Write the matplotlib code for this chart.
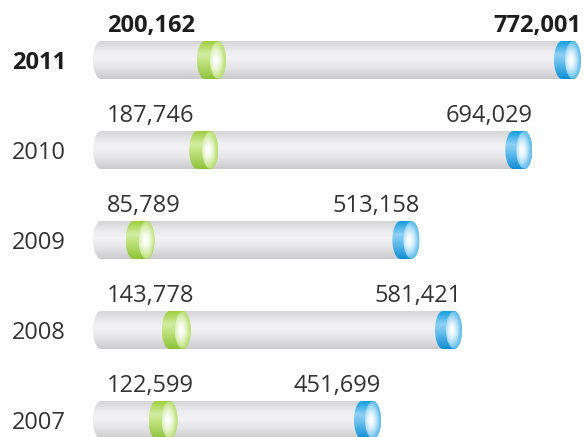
import matplotlib
matplotlib.use("Agg")
import matplotlib.pyplot as plt
import numpy as np
from matplotlib.path import Path
from matplotlib.patches import PathPatch
from matplotlib.colors import to_rgb

# data
years = ["2011", "2010", "2009", "2008", "2007"]
first_vals = [200162, 187746, 85789, 143778, 122599]
total_vals = [772001, 694029, 513158, 581421, 451699]

plt.rcParams['font.family'] = ['Open Sans', 'DejaVu Sans']

W, H = 584, 437
fig = plt.figure(figsize=(W / 100, H / 100), dpi=100)
ax = fig.add_axes([0, 0, 1, 1])
ax.axis('off')

# scale: value 0 at pixel 99, 772001 at pixel 581
x0_px = 99
px = max(total_vals) / (581 - x0_px)   # value units per pixel
row_px = 90                            # pixels between rows
first_row_px = 60
ylim = ((H - first_row_px) / row_px, -first_row_px / row_px)
xlim = (-x0_px * px, (W - x0_px) * px)

bar_h = 38 / row_px
rx = 8 * px
body_start = -6 * px   # rounded left end of the tube


def grad(stops, n=64):
    t = np.linspace(0, 1, n)
    pos = [s[0] for s in stops]
    cols = np.array([to_rgb(s[1]) for s in stops])
    out = np.stack([np.interp(t, pos, cols[:, i]) for i in range(3)], axis=-1)
    return out[:, None, :]


def capsule(xl, xr, yc, h, r, left_round=True, right_round=True):
    t = np.linspace(0, np.pi, 40)
    rl = r if left_round else 0
    rr = r if right_round else 0
    left = np.column_stack([xl + rl - rl * np.sin(t), yc - h / 2 * np.cos(t)])
    right = np.column_stack([xr - rr + rr * np.sin(t), yc + h / 2 * np.cos(t)])
    pts = np.vstack([left, right, left[:1]])
    return Path(pts, closed=True)


def fill_path(path, img, extent, z):
    patch = PathPatch(path, facecolor='none', edgecolor='none', transform=ax.transData)
    ax.add_patch(patch)
    im = ax.imshow(img, extent=extent, aspect='auto', interpolation='bilinear',
                   origin='upper', zorder=z)
    im.set_clip_path(patch)


body_stops = [(0, '#d6d6d8'), (0.3, '#eeeef0'), (0.45, '#f3f3f5'),
              (0.7, '#e5e5e7'), (1, '#cbcbcd')]
green_stops = [(0, '#9fd03f'), (0.35, '#d3eca4'), (0.5, '#c4e484'), (1, '#8dc43a')]
blue_stops = [(0, '#159ddf'), (0.35, '#8ed0f3'), (0.5, '#74c5f0'), (1, '#0f8fd4')]


def face_img(edge, n=60):
    u = np.linspace(-1, 1, n)
    uu, vv = np.meshgrid(u, u)
    r = np.clip(np.sqrt(((uu + 0.25) / 1.1) ** 2 + (vv / 0.95) ** 2), 0, 1)
    w = np.array(to_rgb('#ffffff'))
    e = np.array(to_rgb(edge))
    return w + (e - w) * (r[..., None] ** 1.6)


def draw_cap(xl, xr, yc, stops, face_edge, z):
    top, bot = yc - bar_h / 2, yc + bar_h / 2
    fill_path(capsule(xl, xr, yc, bar_h, rx), grad(stops), (xl, xr, bot, top), z)
    fc = xr - rx
    fill_path(capsule(fc - rx, fc + rx, yc, bar_h * 0.98, rx), face_img(face_edge),
              (fc - rx, fc + rx, bot, top), z + 1)


for i, (yr, fv, tv) in enumerate(zip(years, first_vals, total_vals)):
    yc = i
    top, bot = yc - bar_h / 2, yc + bar_h / 2
    # grey tube
    fill_path(capsule(body_start, tv - rx, yc, bar_h, rx, right_round=False),
              grad(body_stops), (body_start, tv, bot, top), 2)
    # green marker
    g_right = fv + 2 * px
    draw_cap(g_right - 29 * px, g_right, yc, green_stops, '#bfe27e', 4)
    # blue end cap
    draw_cap(tv - 27 * px, tv, yc, blue_stops, '#6cc2ef', 6)

    bold = (i == 0)
    weight = 'bold' if bold else 'normal'
    color = '#1e1e1e' if bold else '#333333'
    ax.text(xlim[0] + 12 * px, yc + 9 / row_px, yr, fontsize=17, fontweight=weight,
            color=color, ha='left', va='baseline')
    ax.text(8 * px, yc - 28 / row_px, f"{fv:,}", fontsize=17, fontweight=weight,
            color=color, ha='left', va='baseline')
    ax.text(tv, yc - 28 / row_px, f"{tv:,}", fontsize=17, fontweight=weight,
            color=color, ha='right', va='baseline')

ax.set_xlim(*xlim)
ax.set_ylim(*ylim)
fig.savefig("out.png", dpi=100)
